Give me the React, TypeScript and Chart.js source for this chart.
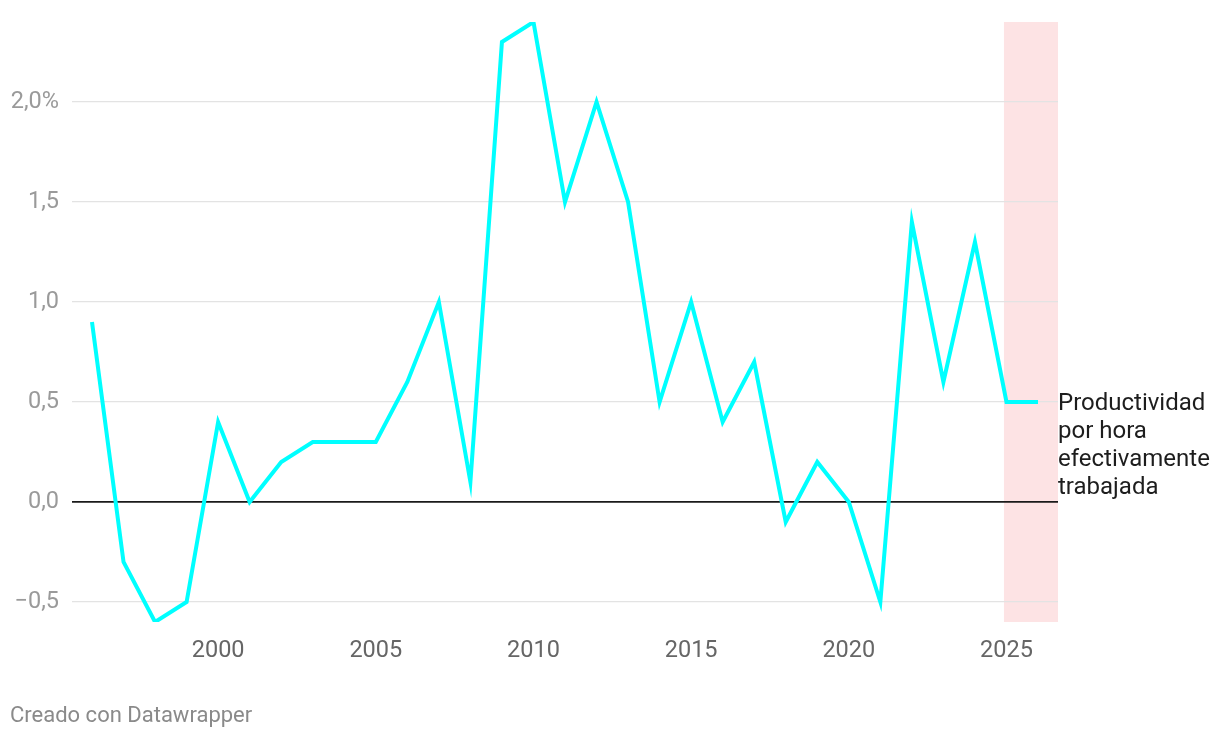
import React, { useEffect, useRef } from "react";
import { Chart, registerables } from "chart.js";

Chart.register(...registerables);

const years: number[] = [
  1996, 1997, 1998, 1999, 2000, 2001, 2002, 2003, 2004, 2005, 2006, 2007, 2008, 2009, 2010,
  2011, 2012, 2013, 2014, 2015, 2016, 2017, 2018, 2019, 2020, 2021, 2022, 2023, 2024, 2025, 2026,
];
const productividad: number[] = [
  0.9, -0.3, -0.6, -0.5, 0.4, 0.0, 0.2, 0.3, 0.3, 0.3, 0.6, 1.0, 0.1, 2.3, 2.4,
  1.5, 2.0, 1.5, 0.5, 1.0, 0.4, 0.7, -0.1, 0.2, 0.0, -0.5, 1.4, 0.6, 1.3, 0.5, 0.5,
];
const xTicks: number[] = [2000, 2005, 2010, 2015, 2020, 2025];
const yTicks: number[] = [-0.5, 0, 0.5, 1.0, 1.5, 2.0];
const seriesLabel: string[] = ["Productividad", "por hora", "efectivamente", "trabajada"];
const bandStart = 2024.92;
const X_MIN = 1995.366;
const X_MAX = 2026.634;
const Y_MIN = -0.6;
const Y_MAX = 2.4;
const FONT = "Roboto, 'Noto Sans', sans-serif";

function fmtY(v: number): string {
  const s = Math.abs(v).toFixed(1).replace(".", ",");
  const sign = v < 0 ? "\u2212" : "";
  return sign + s + (Math.abs(v - 2) < 1e-9 ? "%" : "");
}

export default function App() {
  const ref = useRef<HTMLCanvasElement | null>(null);

  useEffect(() => {
    if (!ref.current) return;
    const bandPlugin = {
      id: "band",
      beforeDraw(chart: any) {
        const { ctx, chartArea, scales } = chart;
        const x0 = scales.x.getPixelForValue(bandStart);
        ctx.save();
        ctx.fillStyle = "#fde3e4";
        ctx.fillRect(x0, chartArea.top, chartArea.right - x0, chartArea.bottom - chartArea.top);
        ctx.restore();
      },
      afterDraw(chart: any) {
        const { ctx, chartArea, scales } = chart;
        const yLast = scales.y.getPixelForValue(productividad[productividad.length - 1]);
        ctx.save();
        ctx.fillStyle = "#1d1d1d";
        ctx.font = `24px ${FONT}`;
        ctx.textAlign = "left";
        ctx.textBaseline = "alphabetic";
        seriesLabel.forEach((t, i) => {
          ctx.fillText(t, chartArea.right, yLast + 8 + i * 28);
        });
        ctx.restore();
      },
    };

    const chart = new Chart(ref.current, {
      type: "line",
      data: {
        datasets: [
          {
            label: "Productividad por hora efectivamente trabajada",
            data: years.map((y, i) => ({ x: y, y: productividad[i] })),
            borderColor: "#00ffff",
            borderWidth: 4,
            pointRadius: 0,
            tension: 0,
            borderJoinStyle: "miter",
            fill: false,
          },
        ],
      },
      options: {
        animation: false,
        responsive: false,
        maintainAspectRatio: false,
        layout: { padding: { top: 22, right: 162, left: 0, bottom: 0 } },
        plugins: {
          legend: { display: false },
          tooltip: { enabled: false },
        },
        scales: {
          x: {
            type: "linear",
            min: X_MIN,
            max: X_MAX,
            afterBuildTicks(scale: any) {
              scale.ticks = xTicks.map((v) => ({ value: v }));
            },
            afterFit(scale: any) {
              scale.height = 116;
              scale.paddingLeft = 0;
              scale.paddingRight = 0;
            },
            grid: { display: false, drawTicks: false },
            border: { display: false },
            ticks: {
              color: "#666666",
              font: { family: FONT, size: 23.5 },
              padding: 15,
              maxRotation: 0,
              autoSkip: false,
              callback: (v: any) => String(v),
            },
          },
          y: {
            type: "linear",
            min: Y_MIN,
            max: Y_MAX,
            afterBuildTicks(scale: any) {
              scale.ticks = yTicks.map((v) => ({ value: v }));
            },
            afterFit(scale: any) {
              scale.width = 72;
              scale.paddingTop = 0;
              scale.paddingBottom = 0;
            },
            grid: {
              drawTicks: false,
              color: (c: any) => (c.tick && Math.abs(c.tick.value) < 1e-9 ? "#1a1a1a" : "#e3e3e3"),
              lineWidth: (c: any) => (c.tick && Math.abs(c.tick.value) < 1e-9 ? 1.8 : 1.3),
            },
            border: { display: false },
            ticks: {
              color: "#9a9a9a",
              font: { family: FONT, size: 23.5 },
              padding: 13,
              autoSkip: false,
              callback: (v: any) => fmtY(Number(v)),
            },
          },
        },
      },
      plugins: [bandPlugin],
    } as any);
    return () => chart.destroy();
  }, []);

  return (
    <div style={{ position: "fixed", left: 0, top: 0, width: 1220, height: 738, background: "#fff" }}>
      <canvas ref={ref} width={1220} height={738} style={{ width: 1220, height: 738, display: "block" }} />
      <div
        style={{
          position: "absolute",
          left: 10,
          top: 702,
          fontFamily: FONT,
          fontSize: 22,
          color: "#8a8a8a",
          lineHeight: "26px",
          whiteSpace: "nowrap",
        }}
      >
        Creado con Datawrapper
      </div>
    </div>
  );
}
